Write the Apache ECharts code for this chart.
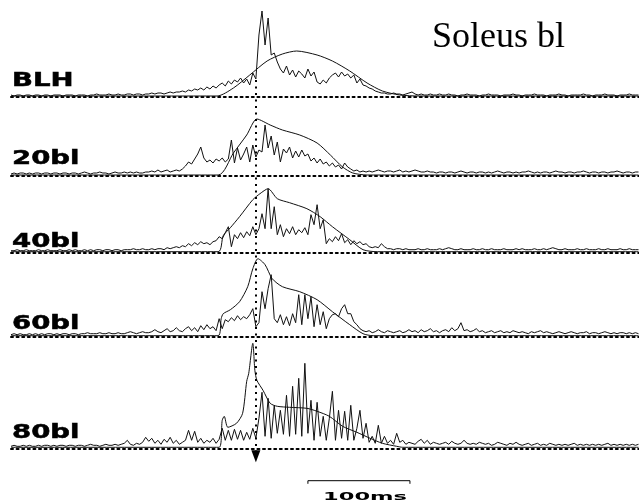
<!DOCTYPE html>
<html><head><meta charset="utf-8">
<script src="https://cdn.jsdelivr.net/npm/echarts@6/dist/echarts.min.js"></script>
<style>html,body{margin:0;padding:0;background:#fff}#c{width:639px;height:503px}</style>
</head><body><div id="c"></div>
<script>
// ---- data ----
const T0 = -240;   // time of first sample (ms, 0 = dotted marker)
const DT = 3;      // sample interval (ms)
const traceNames = ['BLH', '20bl', '40bl', '60bl', '80bl'];
const titleText = 'Soleus bl';
const scaleBarMs = 100;
const scaleBarStart = 51;

const emgBLH = [2,1,2,2,1,2,2,1,2,2, 1,2,2,1,2,2,2,1,2,2, 2,1,2,2,2,1,2,2,3,2, 2,2,3,2,2,3,2,2,3,3, 2,3,3,2,3,
  3,4,3,4,4,3,4,5,4,5,5,
  6,5,7,6,8,7,9,7,10,8,11,9,
  12,14,11,16,13,17,15,19,14,18,
  12,24,18,62,86,52,79,42,44,35,28,
  24,31,22,27,20,26,23,19,28,21,25,
  15,13,17,14,19,
  22,24,20,25,21,23,19,22,
  14,18,12,11,9,8,6,5,4,
  4,3,3,4,3,3,2,3,4,
  5,3,2,3,2,2,3,2,2,3,
  2,2,3,2,2,1,2,2,3,2, 2,2,1,2,2,3,2,2,2,1, 2,2,2,3,2,2,1,2,2,2, 3,2,2,2,1,2,2,2,3,2, 2,1,2,2,2,2,3,2,2,1, 2,2,2,3,2,2,2,1,2,2, 2,3,2,2,2];

const emg20 = [2,3,2,3,3,2,3,2,3,3, 2,3,3,2,3,3,2,3,3,2, 3,3,2,3,4,3,2,3,3,4, 3,3,2,3,4,3,3,4,3,4, 3,4,3,3,4,
  4,5,4,6,4,5,6,4,5,6,5,
  7,10,14,12,17,22,29,18,14,16, 13,17,15,18,14,17,36,13,28,16, 22,29,14,31,19,26,24,51,28,40,
  21,34,14,27,23,29,18,25,19,26, 20,22,15,18,13,17,12,14,10,13, 9,11,7,13,9,7,5,6,4,
  5,4,5,4,5,6,5,4,5,5,4,5,6,4,5,4,
  5,6,5,4,4,5,4,4,3,4, 4,3,4,4,3,4,5,4,3,4, 4,3,4,4,3,4,3,4,5,4, 3,4,4,3,4,3,4,4,5,4, 3,4,3,4,4,3,4,5,4,4, 3,4,4,3,4,4,5,4,3,4, 4,3,4,4,3,4,4,5,4,3, 4,4,3,4,4];

const emg40 = [2,2,3,2,2,3,2,2,2,3, 2,2,3,2,2,2,3,2,2,3, 2,3,2,2,3,2,3,2,3,3, 2,3,3,2,3,3,2,3,3,3, 4,3,3,4,3,
  3,4,3,4,4,3,5,4,5,6,5,
  7,6,9,7,10,8,11,9,10,8,11,
  12,16,14,20,26,6,18,14,20,15, 21,17,26,18,24,39,24,64,24,46, 18,28,16,24,19,26,18,23,20,25,
  18,38,28,48,24,33,9,14,11,16, 12,19,10,13,8,12,9,11,8,9, 6,5,6,5,9,6,4,
  4,3,4,4,3,4,3,
  3,3,4,3,3,4,3,3,3,4, 3,4,5,4,3,3,4,3,3,3, 4,3,3,4,3,3,4,3,3,3, 4,3,3,3,4,3,4,3,3,3, 4,3,3,4,3,4,5,4,3,3, 4,3,3,3,4,3,3,4,3,3, 3,4,3,3,4,3,3,3,4,3, 3,4,3,3,3];

const emg60 = [2,3,2,3,2,2,3,2,3,2, 3,2,3,3,2,3,2,3,3,2, 3,3,2,3,3,4,3,3,3,4, 3,3,4,3,3,4,3,3,4,5, 4,3,4,5,4,
  4,5,7,5,4,6,8,5,6,9,6,5,8,10,6,9,5,11,7,12,8,10,6,
  18,8,17,15,19,16,21,17,20,18, 22,28,10,14,45,28,48,62,18,14, 22,12,20,11,23,14,42,12,42,18,
  40,10,32,12,25,8,18,22,23,20, 28,32,23,23,15,12,8,6,
  5,6,4,5,7,5,4,6,5,4,5,6,4,5,7,
  5,6,4,7,5,6,8,5,6,4, 6,7,5,9,6,8,14,6,7,5, 6,8,5,6,4,5,6,4,5,6, 4,5,4,6,5,4,5,4,3,5, 4,5,6,4,5,4,3,4,5,4, 3,4,5,4,3,4,4,5,3,4, 4,3,4,5,4,3,4,3,4,4, 3,4,3,4,3];

const emg80 = [2,3,2,2,3,2,3,2,2,3, 2,3,3,2,3,2,3,3,2,3, 3,2,3,3,2,3,4,3,3,2, 3,4,3,3,4,3,4,5,8,4, 3,5,4,6,11,
  7,10,5,8,4,9,6,11,5,8,4,
  6,8,18,8,17,6,10,5,8,6, 10,5,9,20,8,18,8,19,9,18, 8,16,9,20,
  10,30,56,12,50,10,43,15,38,14, 53,12,62,14,70,12,85,15,48,8, 46,12,32,8,30,57,8,38,10,37,
  8,43,8,20,38,10,25,6,12,5, 23,5,12,5,8,4,15,6,8,4, 6,
  5,4,7,9,5,8,4,6,5,4, 5,6,4,7,5,4,5,8,5,4, 5,4,6,5,4,5,3,4,6,5, 4,3,5,4,6,4,3,4,5,3, 4,5,3,4,3,5,4,3,4,3, 4,3,4,5,3,4,3,4,3,4, 3,4,3,4,5,3,4,3,4,3, 4,3,4,3,4];

// smoothed envelopes: [time ms, amplitude]
const envBLH = [[-240,1],[-38,1],[-22,9],[-6,22],[11,36],[26,43],[40,46],[60,42],[75,36],[92,26],[109,14],[124,6],[141,2],[160,1],[375,1]];
const env20 = [[-240,1],[-37,1],[-22,23],[-9,41],[1,57],[14,51],[26,46],[43,41],[60,33],[73,21],[85,9],[95,3],[109,1],[375,1]];
const env40 = [[-240,1],[-37,1],[-32,17],[-25,25],[-16,36],[-3,53],[4,59],[12,64],[21,54],[33,50],[50,44],[63,36],[75,26],[92,13],[105,3],[119,1],[375,1]];
const env60 = [[-240,1],[-37,1],[-34,18],[-32,23],[-25,27],[-16,35],[-8,50],[-3,68],[2,78],[9,72],[16,58],[26,50],[43,45],[60,37],[75,25],[92,12],[105,3],[115,1],[375,1]];
const env80 = [[-240,1],[-36,1],[-33,28],[-31,32],[-27.5,21],[-19,25],[-13,35],[-9,67],[-7,75],[-3,105],[-1,78],[1,68],[7,58],[14,45],[21,42],[33,41],[50,40],[60,37],[72,32],[85,22],[99,16],[112,10],[124,5],[138,2],[144,1],[375,1]];

const emgAll = [emgBLH, emg20, emg40, emg60, emg80];
const envAll = [envBLH, env20, env40, env60, env80];

// ---- layout ----
const W = 639, H = 503;
const baseY = [97, 176, 252.7, 336.7, 448.3];
const labelY = [81.5, 159.5, 242.5, 324.5, 433.5];
const gridL = 11, gridR = 0.5, yTop = 95;
const xMin = -240, xMax = 375;

const grids = [], xAxes = [], yAxes = [], series = [];
baseY.forEach((b, k) => {
  const below = k === 4 ? 50 : 0;
  grids.push({ left: gridL, right: gridR, top: b - yTop, bottom: H - b - below });
  xAxes.push({ type: 'value', gridIndex: k, min: xMin, max: xMax,
    axisLine: { show: true, onZero: true, lineStyle: { color: '#000', width: 2, type: [2, 3.6] } },
    axisTick: { show: false }, axisLabel: { show: false }, splitLine: { show: false } });
  yAxes.push({ type: 'value', gridIndex: k, min: -below, max: yTop, show: false, splitLine: { show: false } });
  series.push({ type: 'line', xAxisIndex: k, yAxisIndex: k, showSymbol: false, clip: false,
    data: emgAll[k].map((v, i) => [T0 + i * DT, v]),
    lineStyle: { color: '#111', width: 1 }, z: 3 });
  series.push({ type: 'line', xAxisIndex: k, yAxisIndex: k, showSymbol: false, clip: false, smooth: 0.25,
    data: envAll[k], lineStyle: { color: '#111', width: 1 }, z: 4 });
});
// scale bar in bottom panel
series.push({ type: 'line', xAxisIndex: 4, yAxisIndex: 4, showSymbol: false, clip: false,
  data: [[scaleBarStart, -35.5], [scaleBarStart, -32.4], [scaleBarStart + scaleBarMs, -32.4], [scaleBarStart + scaleBarMs, -35.5]],
  lineStyle: { color: '#000', width: 1 } });
// overlay grid for the vertical marker
grids.push({ left: gridL, right: gridR, top: 80, bottom: H - 464 });
xAxes.push({ type: 'value', gridIndex: 5, min: xMin, max: xMax, show: false });
yAxes.push({ type: 'value', gridIndex: 5, min: 0, max: 1, show: false });
series.push({ type: 'line', xAxisIndex: 5, yAxisIndex: 5, data: [], silent: true,
  markLine: { silent: true, symbol: ['none', 'triangle'], symbolSize: [9, 12], label: { show: false },
    lineStyle: { color: '#000', width: 2, type: [2, 4.5] },
    data: [[{ coord: [0, 1] }, { coord: [0, 0.02] }]] } });

const graphic = [
  { type: 'text', x: 432, y: 38, style: { text: titleText, font: '36px "Liberation Serif"', fill: '#000', textVerticalAlign: 'middle' } }
];
traceNames.forEach((n, k) => graphic.push({ type: 'text', x: 12, y: labelY[k], scaleX: 1.45,
  style: { text: n, font: 'bold 19px "DejaVu Sans"', fill: '#000', stroke: '#000', lineWidth: 0.5, textVerticalAlign: 'middle' } }));
graphic.push({ type: 'text', x: 365, y: 497, scaleX: 2.05,
  style: { text: scaleBarMs + 'ms', font: 'bold 11px "DejaVu Sans"', fill: '#000', textAlign: 'center', textVerticalAlign: 'middle' } });

const chart = echarts.init(document.getElementById('c'), null, { renderer: 'canvas' });
chart.setOption({ animation: false, backgroundColor: '#fff', grid: grids, xAxis: xAxes, yAxis: yAxes, series, graphic });
</script></body></html>
